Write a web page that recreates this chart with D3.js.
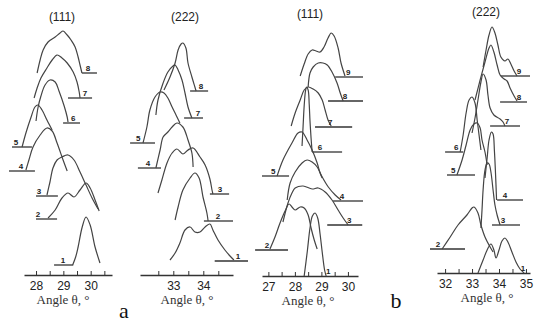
<!DOCTYPE html>
<html>
<head>
<meta charset="utf-8">
<script src="https://cdn.jsdelivr.net/npm/d3@7"></script>
<style>
  body { margin: 0; background: #fff; }
  svg { display: block; }
</style>
</head>
<body>
<div id="graph"></div>
<script>
// ---- data ----
const titles = ["(111)", "(222)", "(111)", "(222)"];
const domains = [[27.56, 30.78], [31.89, 34.99], [26.76, 30.38], [31.7, 35.15]];
const tickLabels = [[28, 29, 30], [33, 34], [27, 28, 29, 30], [32, 33, 34, 35]];
const tickMarks = [
  [28, 28.5, 29, 29.5, 30, 30.5],
  [32.5, 33, 33.5, 34, 34.5],
  [27, 27.5, 28, 28.5, 29, 29.5, 30],
  [32, 32.5, 33, 33.5, 34, 34.5, 35]
];
const letters = ["a", "b"];

// n = curve number, base = baseline level, span = baseline angles,
// lab = label angle, pts = [angle, level]
const curvesA = [
  {n: 1, base: 10, span: [28.66, 29.36], lab: 28.99,
   pts: [[29.34,10],[29.45,18],[29.54,28],[29.69,48],[29.83,58],[29.98,50],[30.16,28],[30.34,12]]},
  {n: 2, base: 56, span: [28.0, 28.77], lab: 28.07,
   pts: [[28.44,57],[28.70,65],[28.95,77],[29.17,82],[29.39,78],[29.61,85],[29.83,92],[29.98,87],[30.16,75],[30.31,64]]},
  {n: 3, base: 79, span: [28.0, 28.8], lab: 28.11,
   pts: [[28.40,80],[28.51,93],[28.62,107],[28.77,115],[28.95,118],[29.17,120],[29.39,115],[29.61,103],[29.83,90],[30.05,77],[30.27,66]]},
  {n: 4, base: 104, span: [27.01, 27.96], lab: 27.45,
   pts: [[27.63,105],[27.74,115],[27.89,128],[28.15,140],[28.40,147],[28.59,144],[28.77,132],[28.99,115],[29.14,104]]},
  {n: 5, base: 128, span: [27.12, 27.85], lab: 27.27,
   pts: [[27.49,128],[27.63,142],[27.82,158],[27.96,168],[28.07,170],[28.22,165],[28.40,155],[28.59,145]]},
  {n: 6, base: 152, span: [28.99, 29.61], lab: 29.36,
   pts: [[28.0,154],[28.07,167],[28.18,179],[28.33,190],[28.51,195],[28.70,193],[28.84,184],[29.03,169],[29.14,158],[29.17,153]]},
  {n: 7, base: 177, span: [29.17, 30.05], lab: 29.79,
   pts: [[27.93,177],[28.04,187],[28.18,197],[28.40,207],[28.59,215],[28.77,220],[28.95,217],[29.14,212],[29.36,203],[29.50,193],[29.58,183],[29.61,177]]},
  {n: 8, base: 202, span: [29.68, 30.23], lab: 29.90,
   pts: [[28.04,202],[28.15,215],[28.26,225],[28.44,233],[28.70,238],[28.88,242],[28.99,244],[29.14,240],[29.28,235],[29.43,228],[29.54,218],[29.61,210],[29.68,202]]}
];

const curvesB = [
  {n: 1, base: 14, span: [34.38, 35.49], lab: 35.16,
   pts: [[32.89,15],[33.06,22],[33.22,32],[33.39,45],[33.56,48],[33.72,43],[33.89,43],[34.06,48],[34.22,51],[34.32,45],[34.49,35],[34.72,25],[34.89,19],[35.02,15]]},
  {n: 2, base: 54, span: [34.02, 34.99], lab: 34.49,
   pts: [[33.06,55],[33.16,68],[33.32,85],[33.56,97],[33.72,102],[33.86,97],[33.99,78],[34.12,62],[34.16,54]]},
  {n: 3, base: 81, span: [34.22, 34.86], lab: 34.56,
   pts: [[32.49,82],[32.62,95],[32.79,112],[32.96,122],[33.12,126],[33.32,121],[33.49,125],[33.66,127],[33.89,118],[34.06,110],[34.22,96],[34.29,85],[34.32,81]]},
  {n: 4, base: 107, span: [31.82, 32.59], lab: 32.16,
   pts: [[32.42,107],[32.56,125],[32.66,138],[32.82,143],[32.96,148],[33.12,152],[33.32,148],[33.49,135],[33.62,122],[33.66,108]]},
  {n: 5, base: 132, span: [31.56, 32.39], lab: 31.83,
   pts: [[31.99,132],[32.12,148],[32.22,165],[32.39,178],[32.56,183],[32.69,182],[32.82,177],[32.96,168],[33.09,160],[33.22,152]]},
  {n: 7, base: 157, span: [33.36, 33.99], lab: 33.82,
   pts: [[32.42,160],[32.49,175],[32.66,192],[32.82,203],[32.99,209],[33.06,210],[33.16,205],[33.29,195],[33.39,182],[33.49,168],[33.62,157]]},
  {n: 8, base: 184, span: [33.56, 34.16], lab: 33.92,
   pts: [[32.69,185],[32.89,198],[33.06,212],[33.16,225],[33.26,231],[33.32,232],[33.42,227],[33.49,212],[33.62,198],[33.72,188],[33.76,184]]}
];

const curvesC = [
  {n: 1, base: 0, span: null, lab: 29.26,
   pts: [[28.35,0],[28.47,25],[28.57,48],[28.66,60],[28.76,63],[28.86,58],[28.95,42],[29.03,24],[29.12,6],[29.18,0]]},
  {n: 2, base: 26, span: [26.50, 27.74], lab: 26.95,
   pts: [[27.06,27],[27.25,39],[27.44,53],[27.63,65],[27.78,72],[27.89,69],[28.01,66],[28.20,69],[28.35,68],[28.50,61],[28.61,48],[28.73,36],[28.84,27]]},
  {n: 3, base: 51, span: [29.22, 30.54], lab: 30.05,
   pts: [[27.55,54],[27.74,73],[27.89,83],[28.01,88],[28.31,90],[28.65,87],[28.88,88],[29.14,84],[29.40,76],[29.63,66],[29.82,58],[30.01,51]]},
  {n: 4, base: 75, span: [29.44, 30.57], lab: 29.78,
   pts: [[27.71,76],[27.82,93],[28.01,104],[28.27,113],[28.46,116],[28.65,114],[28.84,109],[29.03,99],[29.26,89],[29.52,81],[29.74,76]]},
  {n: 5, base: 100, span: [26.76, 27.78], lab: 27.18,
   pts: [[27.33,100],[27.55,116],[27.89,133],[28.12,143],[28.27,144],[28.46,136],[28.65,126],[28.84,113],[28.95,103],[29.03,98]]},
  {n: 6, base: 124, span: [28.65, 29.78], lab: 28.95,
   pts: [[28.27,130],[28.31,150],[28.35,170],[28.40,185],[28.44,189],[28.50,186],[28.54,172],[28.57,155],[28.61,138],[28.65,124]]},
  {n: 7, base: 149, span: [28.76, 30.16], lab: 29.33,
   pts: [[27.86,150],[28.01,163],[28.20,176],[28.35,186],[28.50,189],[28.69,187],[28.88,183],[29.03,176],[29.14,166],[29.25,156],[29.37,150]]},
  {n: 8, base: 175, span: [29.25, 30.57], lab: 29.89,
   pts: [[28.50,189],[28.57,203],[28.69,209],[28.88,213],[29.06,213],[29.22,211],[29.40,204],[29.59,193],[29.71,183],[29.82,175]]},
  {n: 9, base: 199, span: [29.52, 30.57], lab: 30.01,
   pts: [[28.20,200],[28.35,212],[28.50,222],[28.65,226],[28.80,225],[28.95,224],[29.10,229],[29.25,238],[29.37,243],[29.48,240],[29.63,228],[29.74,213],[29.89,200]]}
];

const curvesD = [
  {n: 1, base: 0, span: null, lab: 34.89,
   pts: [[33.22,0],[33.41,13],[33.56,23],[33.70,29],[33.81,23],[33.89,15],[34.00,23],[34.11,32],[34.22,35],[34.33,31],[34.48,21],[34.63,11],[34.78,4],[34.93,0]]},
  {n: 2, base: 24, span: [31.44, 32.74], lab: 31.74,
   pts: [[31.89,24],[32.19,36],[32.48,48],[32.81,58],[33.00,65],[33.07,66],[33.22,60],[33.33,48],[33.48,36],[33.67,26],[33.78,21]]},
  {n: 3, base: 48, span: [33.74, 34.78], lab: 34.15,
   pts: [[33.33,45],[33.37,63],[33.41,83],[33.48,103],[33.56,110],[33.63,109],[33.70,101],[33.78,83],[33.85,68],[33.93,58],[34.04,48]]},
  {n: 4, base: 73, span: [33.93, 34.89], lab: 34.22,
   pts: [[33.48,95],[33.56,115],[33.63,133],[33.72,141],[33.78,139],[33.83,122],[33.87,100],[33.91,73]]},
  {n: 5, base: 98, span: [32.07, 33.11], lab: 32.30,
   pts: [[32.44,98],[32.63,113],[32.78,128],[32.93,143],[33.07,149],[33.19,150],[33.30,145],[33.37,133],[33.48,121],[33.56,108]]},
  {n: 6, base: 121, span: [32.0, 32.67], lab: 32.41,
   pts: [[32.56,121],[32.67,138],[32.78,160],[32.89,173],[33.00,176],[33.11,170],[33.19,153],[33.26,138],[33.33,123]]},
  {n: 7, base: 147, span: [33.67, 34.78], lab: 34.30,
   pts: [[33.00,140],[33.11,155],[33.22,173],[33.33,191],[33.41,199],[33.52,193],[33.59,178],[33.67,165],[33.81,158],[34.04,154],[34.15,151],[34.22,147]]},
  {n: 8, base: 171, span: [34.04, 35.04], lab: 34.74,
   pts: [[33.11,173],[33.30,193],[33.48,211],[33.63,225],[33.70,228],[33.81,221],[33.93,208],[34.04,198],[34.19,194],[34.30,192],[34.41,185],[34.56,177],[34.67,172]]},
  {n: 9, base: 197, span: [34.07, 35.15], lab: 34.74,
   pts: [[33.41,206],[33.52,223],[33.63,238],[33.74,246],[33.85,240],[33.96,228],[34.07,216],[34.22,212],[34.33,214],[34.44,209],[34.56,202],[34.67,197]]}
];

const allCurves = [curvesA, curvesB, curvesC, curvesD];

// ---- layout ----
const W = 535, H = 327;
const layout = [
  {x0: 24,  x1: 112, axisY: 275, titleX: 62,  titleY: 21, labelX: 63},
  {x0: 140, x1: 233, axisY: 275, titleX: 185, titleY: 21, labelX: 187},
  {x0: 262, x1: 358, axisY: 276, titleX: 310, titleY: 18, labelX: 308},
  {x0: 437, x1: 530, axisY: 273, titleX: 486, titleY: 16, labelX: 487}
];
const letterPos = [{x: 124, y: 318}, {x: 396, y: 308}];
const ink = "#333";

const svg = d3.select("#graph")
  .append("svg")
    .attr("width", W)
    .attr("height", H);

layout.forEach((p, i) => {
  const x = d3.scaleLinear().domain(domains[i]).range([p.x0, p.x1]);
  const y = d3.scaleLinear().domain([0, 260]).range([p.axisY, p.axisY - 260]);
  const g = svg.append("g");

  // axis with upward ticks
  const axis = d3.axisBottom(x)
    .tickValues(tickMarks[i])
    .tickSizeInner(-4)
    .tickSizeOuter(0)
    .tickPadding(6)
    .tickFormat(d => tickLabels[i].includes(d) ? d : "");
  const ax = g.append("g")
    .attr("transform", `translate(0,${p.axisY})`)
    .call(axis);
  ax.select(".domain").attr("stroke", ink).attr("stroke-width", 1.6);
  ax.selectAll(".tick line").attr("stroke", ink).attr("stroke-width", 1);
  ax.selectAll(".tick text")
    .attr("fill", "#222")
    .style("font-family", "Liberation Sans, Arial, sans-serif")
    .style("font-size", "12px");

  // baselines
  g.selectAll(".base")
    .data(allCurves[i].filter(c => c.span))
    .join("line")
      .attr("class", "base")
      .attr("x1", d => x(d.span[0]))
      .attr("x2", d => x(d.span[1]))
      .attr("y1", d => y(d.base))
      .attr("y2", d => y(d.base))
      .attr("stroke", ink)
      .attr("stroke-width", 1.3);

  // curves
  const line = d3.line()
    .x(d => x(d[0]))
    .y(d => y(d[1]))
    .curve(d3.curveCatmullRom.alpha(0.5));
  g.selectAll(".curve")
    .data(allCurves[i])
    .join("path")
      .attr("class", "curve")
      .attr("d", d => line(d.pts))
      .attr("fill", "none")
      .attr("stroke", "#444")
      .attr("stroke-width", 1.2);

  // curve numbers
  g.selectAll(".num")
    .data(allCurves[i])
    .join("text")
      .attr("class", "num")
      .attr("x", d => x(d.lab))
      .attr("y", d => y(d.base) - 2)
      .attr("text-anchor", "middle")
      .style("font-family", "Liberation Sans, Arial, sans-serif")
      .style("font-size", "8px")
      .style("font-weight", "bold")
      .attr("fill", "#222")
      .text(d => d.n);

  // title
  g.append("text")
    .attr("x", p.titleX)
    .attr("y", p.titleY)
    .attr("text-anchor", "middle")
    .style("font-family", "Liberation Sans, Arial, sans-serif")
    .style("font-size", "12px")
    .attr("fill", "#222")
    .text(titles[i]);

  // axis label
  g.append("text")
    .attr("x", p.labelX)
    .attr("y", p.axisY + 29)
    .attr("text-anchor", "middle")
    .style("font-family", "Liberation Serif, Times New Roman, serif")
    .style("font-size", "13px")
    .attr("fill", "#333")
    .text("Angle θ, °");
});

// panel letters
svg.selectAll(".letter")
  .data(letters)
  .join("text")
    .attr("class", "letter")
    .attr("x", (d, i) => letterPos[i].x)
    .attr("y", (d, i) => letterPos[i].y)
    .attr("text-anchor", "middle")
    .style("font-family", "Liberation Serif, Times New Roman, serif")
    .style("font-size", "22px")
    .attr("fill", "#111")
    .text(d => d);
</script>
</body>
</html>
